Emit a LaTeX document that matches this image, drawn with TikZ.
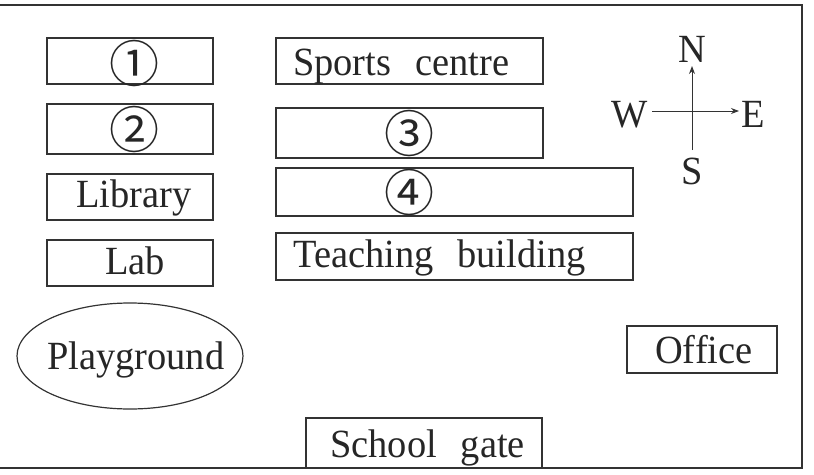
\documentclass[tikz,border=0pt]{standalone}
\usepackage{fontspec}
\setmainfont{Liberation Serif}[FakeStretch=0.96]
\newfontfamily\circfont{Noto Sans CJK SC}
\usetikzlibrary{arrows.meta,shapes.geometric}
\newcommand\mapfont{\fontsize{40}{46}\selectfont\spaceskip=24pt plus 2pt minus 2pt\relax}
\newcommand\circnumfont{\circfont\fontsize{50}{56}\selectfont}
\begin{document}
\begin{tikzpicture}[x=1pt,y=-1pt,
  ink/.style={draw=black!80, line width=1.2pt},
  box/.style={ink, rectangle, inner sep=0pt, minimum width=#1},
  box/.default=166pt,
  txt/.style={inner sep=0pt, anchor=base west, font=\mapfont, text=black!85},
  ctxt/.style={inner sep=0pt, anchor=base, font=\mapfont, text=black!85},
  num/.style={inner sep=0pt, anchor=center, font=\circnumfont, text=black!85},
  arr/.style={ink, line width=1pt, -{Stealth[length=8pt,width=6pt]}}]
\useasboundingbox (0,0) rectangle (814,474);
% frame
\draw[ink] (0,5) -- (802,5) -- (802,468) -- (0,468);
% left column
\node[box, minimum height=46pt] (b1) at (130,61) {};
\node[box, minimum height=50pt] (b2) at (130,129) {};
\node[box, minimum height=46pt] (lib) at (130,197) {};
\node[box, minimum height=46pt] (lab) at (130,263) {};
\node[num] (n1) at (134,63) {①};
\node[num] (n2) at (134,129) {②};
\node[txt] (tlib) at (76,207) {Library};
\node[ctxt] (tlab) at (135,274) {Lab};
% middle column
\node[box=267pt, minimum height=46pt] (sports) at (409.5,61) {};
\node[box=267pt, minimum height=50pt] (b3) at (409.5,133) {};
\node[box=357pt, minimum height=48pt] (b4) at (454.5,192) {};
\node[box=357pt, minimum height=47pt] (teach) at (454.5,256.5) {};
\node[txt] (tsports) at (293,75) {Sports centre};
\node[num] (n3) at (409,133) {③};
\node[num] (n4) at (409,192) {④};
\node[txt] (tteach) at (293,267) {Teaching building};
% playground
\node[ink, ellipse, inner sep=0pt, minimum width=226pt, minimum height=106pt] (play) at (130,356) {};
\node[txt] (tplay) at (47,369) {Playground};
% office
\node[box=150pt, minimum height=47pt] (office) at (702,349.5) {};
\node[txt] (toffice) at (655,363) {Office};
% school gate
\node[box=236pt, minimum height=50pt] (gate) at (424,443) {};
\node[txt] (tgate) at (330,457) {School gate};
% compass
\node[ctxt] (N) at (692,62) {N};
\node[ctxt] (S) at (692,184) {S};
\node[ctxt] (W) at (630,127) {W};
\node[ctxt] (E) at (753,127) {E};
\coordinate (vs) at (692,150);
\coordinate (vn) at (692,66);
\coordinate (hw) at (652,111);
\coordinate (he) at (739,111);
\draw[arr] (vs) -- (vn);
\draw[arr] (hw) -- (he);
\end{tikzpicture}
\end{document}
